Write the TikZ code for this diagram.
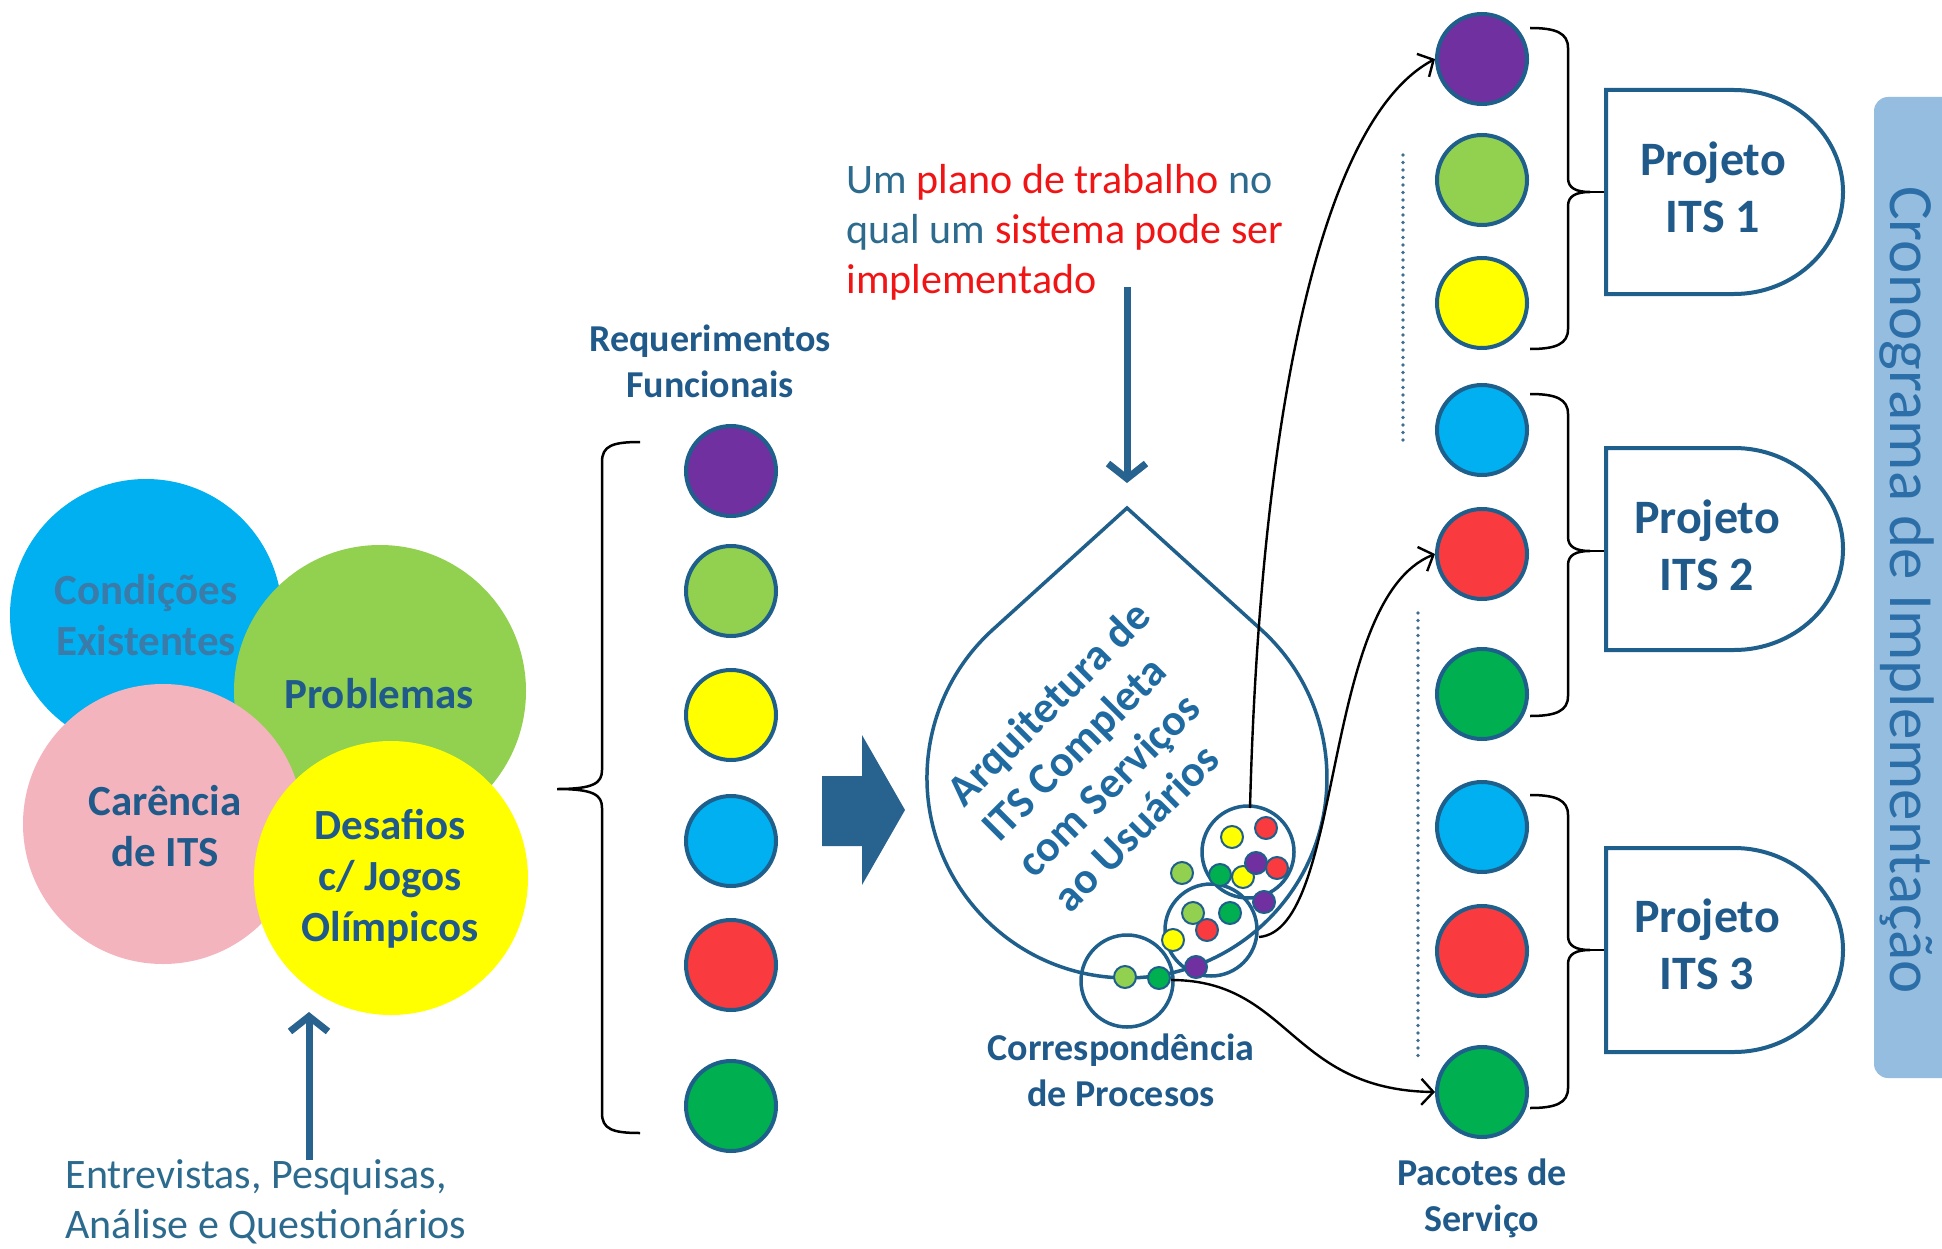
\documentclass[tikz,border=0pt]{standalone}
\usepackage{fontspec}
\setmainfont{Carlito}
\usetikzlibrary{arrows.meta}

\definecolor{lbl}{HTML}{1F5A8A}
\definecolor{txt}{HTML}{2D6B8E}
\definecolor{redt}{HTML}{F01414}
\definecolor{edge}{HTML}{1F5F8C}
\definecolor{arrc}{HTML}{28628F}
\definecolor{cpurple}{HTML}{7030A0}
\definecolor{clgreen}{HTML}{92D050}
\definecolor{cyellow}{HTML}{FFFF00}
\definecolor{cblue}{HTML}{00B0F0}
\definecolor{cred}{HTML}{F93B3F}
\definecolor{cgreen}{HTML}{00B050}
\definecolor{cpink}{HTML}{F4B4BE}
\definecolor{barfill}{HTML}{95BDE0}
\definecolor{bartext}{HTML}{2C6FA8}
\definecolor{droptext}{HTML}{1F6AA0}
\definecolor{dotline}{HTML}{3F6E90}
\definecolor{faded}{HTML}{3A7BAA}

\tikzset{
  pkg/.style={circle, draw=edge, line width=4pt, minimum size=90pt, inner sep=0pt, fill=#1},
  mini/.style={circle, draw=edge, line width=2pt, minimum size=22pt, inner sep=0pt, fill=#1},
  ring/.style={circle, draw=edge, line width=3.5pt, minimum size=92pt, inner sep=0pt},
  topic/.style={circle, inner sep=0pt, fill=#1},
  bigbold/.style={font=\bfseries\fontsize{43}{51}\selectfont, text=lbl, align=center},
  smallbold/.style={font=\bfseries\fontsize{38}{46}\selectfont, text=lbl, align=center},
  projtext/.style={font=\bfseries\fontsize{48}{57}\selectfont, text=lbl, align=center},
  plain/.style={font=\fontsize{42}{50}\selectfont, text=txt, align=left},
  bracel/.style={draw=black, line width=2.5pt},
  dshape/.style={draw=edge, line width=4pt, fill=white},
  link/.style={draw=black, line width=2.4pt, -{Straight Barb[length=12pt,width=26pt]}},
  bluearrow/.style={draw=arrc, line width=7pt, -{Straight Barb[length=15pt,width=38pt]}},
  dotted line/.style={draw=dotline, line width=3.8pt, dash pattern=on 0pt off 7.5pt, line cap=round},
}

% brace on the right of a group of service packages: top, middle, bottom
\newcommand{\pkgbrace}[3]{%
  \draw[bracel] (1530,#1) .. controls (1556,#1) and (1568,#1+5) .. (1568,#1+20)
    -- (1568,#2-14) .. controls (1568,#2-4) and (1576,#2) .. (1590,#2)
    .. controls (1576,#2) and (1568,#2+4) .. (1568,#2+14)
    -- (1568,#3-20) .. controls (1568,#3-5) and (1556,#3) .. (1530,#3);
  \draw[bracel] (1588,#2) -- (1606,#2);
}
% half-round project box: top, middle, bottom
\newcommand{\projshape}[3]{%
  \draw[dshape] (1606,#1) -- (1734,#1) .. controls (1794,#1) and (1843,#2-56) .. (1843,#2)
    .. controls (1843,#2+56) and (1794,#3) .. (1734,#3) -- (1606,#3) -- cycle;
}

\begin{document}
\begin{tikzpicture}[x=1pt,y=-1pt]
\useasboundingbox (0,0) rectangle (1942,1249);
\fill[white] (0,0) rectangle (1942,1249);

% ---- overlapping topic discs
\node[topic=cblue, minimum size=272pt] (cond) at (146,615) {};
\node[topic=clgreen, minimum size=292pt] (prob) at (380,691) {};
\node[topic=cpink, minimum size=280pt] (care) at (163,824) {};
\node[topic=cyellow, minimum size=274pt] (desa) at (391,878) {};
\node[bigbold, text=faded] at (146,615) {Condições\\Existentes};
\node[bigbold] at (379,694) {Problemas};
\node[bigbold] at (165,826) {Carência\\de ITS};
\node[bigbold] at (390,879) {Desafios\\c/ Jogos\\Olímpicos};

% ---- inputs
\coordinate (srcfoot) at (309,1160);
\coordinate (srchead) at (309,1012);
\draw[bluearrow] (srcfoot) -- (srchead);
\node[plain, anchor=west] (src) at (62,1202) {Entrevistas, Pesquisas,\\Análise e Questionários};

% ---- functional requirements
\node[smallbold] (reqlbl) at (710,361) {Requerimentos\\Funcionais};
\node[pkg=cpurple] (r1) at (731,471) {};
\node[pkg=clgreen] (r2) at (731,591) {};
\node[pkg=cyellow] (r3) at (731,715) {};
\node[pkg=cblue] (r4) at (731,841) {};
\node[pkg=cred] (r5) at (731,965) {};
\node[pkg=cgreen] (r6) at (731,1106) {};
\draw[bracel] (640,442) .. controls (612,442) and (602,446) .. (602,462)
  -- (602,770) .. controls (602,783) and (594,789) .. (557,789)
  .. controls (594,789) and (602,795) .. (602,808)
  -- (602,1113) .. controls (602,1129) and (612,1133) .. (640,1133);

% ---- block arrow
\fill[arrc] (822,776) -- (862,776) -- (862,735) -- (905,810) -- (862,885)
  -- (862,846) -- (822,846) -- cycle;

% ---- plan text and arrow
\node[plain, anchor=west] (plan) at (843,232)
  {Um \textcolor{redt}{plano de trabalho} no\\qual um \textcolor{redt}{sistema pode ser}\\\textcolor{redt}{implementado}};
\coordinate (plantail) at (1127,287);
\coordinate (planhead) at (1127,483);
\draw[bluearrow] (plantail) -- (planhead);

% ---- architecture drop
\coordinate (apex) at (1127,508);
\draw[edge, line width=3.5pt, line join=miter] (apex) -- (1261.3,629.8)
  arc[start angle=47.8, end angle=-227.8, radius=200pt] -- cycle;
\node[font=\bfseries\fontsize{44}{50}\selectfont, text=droptext, align=left, rotate=45]
  (arch) at (1101,756) {Arquitetura de\\ITS Completa\\com Serviços\\ao Usuários};

% ---- process correspondence clusters
\node[ring] (ringA) at (1127,981) {};
\node[ring] (ringB) at (1211,930) {};
\node[ring] (ringC) at (1248,852) {};
\node[mini=clgreen] (a1) at (1125,977) {};
\node[mini=cgreen] (a2) at (1159,978) {};
\node[mini=clgreen] (b1) at (1193,913) {};
\node[mini=cgreen] (b2) at (1230,913) {};
\node[mini=cyellow] (b3) at (1173,940) {};
\node[mini=cred] (b4) at (1207,930) {};
\node[mini=cpurple] (b5) at (1196,967) {};
\node[mini=cyellow] (c1) at (1232,837) {};
\node[mini=cred] (c2) at (1266,828) {};
\node[mini=cgreen] (c3) at (1220,875) {};
\node[mini=cyellow] (c4) at (1243,877) {};
\node[mini=cpurple] (c5) at (1256,863) {};
\node[mini=cred] (c6) at (1277,868) {};
\node[mini=cpurple] (c7) at (1264,902) {};
\node[mini=clgreen] (loose) at (1182,873) {};
\node[smallbold] (corr) at (1121,1070) {Correspondência\\de Procesos};

% ---- service packages
\node[pkg=cpurple] (p1) at (1482,59) {};
\node[pkg=clgreen] (p2) at (1482,180) {};
\node[pkg=cyellow] (p3) at (1482,303) {};
\node[pkg=cblue] (p4) at (1482,430) {};
\node[pkg=cred] (p5) at (1482,554) {};
\node[pkg=cgreen] (p6) at (1482,694) {};
\node[pkg=cblue] (p7) at (1482,827) {};
\node[pkg=cred] (p8) at (1482,951) {};
\node[pkg=cgreen] (p9) at (1482,1092) {};
\node[smallbold] (pkglbl) at (1482,1198) {Pacotes de\\Serviço};
\draw[dotted line] (1403,155) -- (1403,446);
\draw[dotted line] (1418,613) -- (1418,1059);

% ---- links from the clusters to the packages
\coordinate (cTop) at (1250,808);
\coordinate (bRight) at (1259,937);
\coordinate (aRight) at (1171,980);
\draw[link] (cTop) .. controls (1260,420) and (1320,120) .. (p1.west);
\draw[link] (bRight) .. controls (1345,930) and (1320,600) .. (p5.west);
\draw[link] (aRight) .. controls (1290,980) and (1290,1090) .. (p9.west);

% ---- projects
\pkgbrace{28}{192}{349}
\pkgbrace{394}{551}{716}
\pkgbrace{795}{950}{1108}
\projshape{90}{192}{294}
\projshape{448}{549}{650}
\projshape{848}{950}{1052}
\node[projtext] (proj1) at (1713,187) {Projeto\\ITS 1};
\node[projtext] (proj2) at (1707,545) {Projeto\\ITS 2};
\node[projtext] (proj3) at (1707,944) {Projeto\\ITS 3};

% ---- schedule bar
\fill[barfill, rounded corners=14pt] (1874,97) rectangle (1970,1078);
\node[font=\fontsize{63}{70}\selectfont, text=bartext, rotate=-90] (sched) at (1907,590)
  {Cronograma de Implementação};
\end{tikzpicture}
\end{document}
